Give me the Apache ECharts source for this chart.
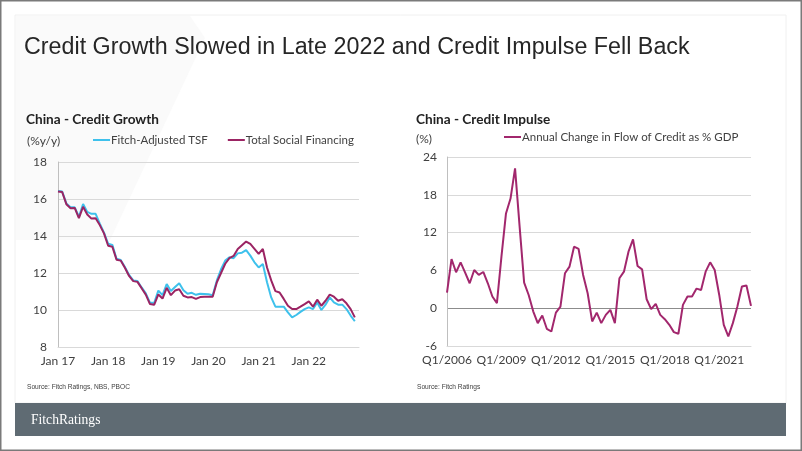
<!DOCTYPE html>
<html><head><meta charset="utf-8">
<script src="https://cdn.jsdelivr.net/npm/echarts@6/dist/echarts.min.js"></script>
<style>html,body{margin:0;padding:0;background:#fff}#c{width:802px;height:451px}</style>
</head><body><div id="c"></div>
<script>
// ---- Left chart: China - Credit Growth (%y/y), monthly Jan 2017 - Dec 2022
const xTickLabels = ['Jan 17', 'Jan 18', 'Jan 19', 'Jan 20', 'Jan 21', 'Jan 22'];
const fitchAdjustedTSF = [
  16.43, 16.40, 15.76, 15.56, 15.55, 15.04, 15.73, 15.30, 15.20, 15.20, 14.67, 14.18,
  13.58, 13.52, 12.77, 12.70, 12.32, 11.90, 11.60, 11.57, 11.22, 10.90, 10.40, 10.38,
  11.05, 10.80, 11.40, 11.03, 11.24, 11.45, 11.07, 10.88, 10.93, 10.82, 10.88, 10.87,
  10.85, 10.80, 11.60, 12.20, 12.67, 12.85, 12.80, 13.06, 13.10, 13.24, 12.94, 12.58,
  12.30, 12.49, 11.50, 10.68, 10.18, 10.18, 10.18, 9.87, 9.60, 9.73, 9.90, 10.05,
  10.14, 10.05, 10.41, 10.00, 10.29, 10.68, 10.41, 10.29, 10.29, 10.05, 9.70, 9.39
];
const totalSocialFinancing = [
  16.41, 16.38, 15.72, 15.50, 15.52, 14.97, 15.58, 15.16, 14.94, 14.96, 14.59, 14.14,
  13.47, 13.42, 12.72, 12.67, 12.28, 11.84, 11.56, 11.52, 11.18, 10.83, 10.32, 10.28,
  10.84, 10.62, 11.20, 10.80, 11.05, 11.12, 10.77, 10.68, 10.70, 10.60, 10.70, 10.72,
  10.72, 10.72, 11.50, 12.00, 12.50, 12.80, 12.92, 13.30, 13.50, 13.70, 13.57, 13.30,
  13.03, 13.30, 12.30, 11.60, 11.02, 10.95, 10.60, 10.23, 10.05, 10.05, 10.18, 10.32,
  10.47, 10.18, 10.56, 10.23, 10.50, 10.83, 10.72, 10.50, 10.58, 10.36, 10.05, 9.60
];
const growthTicks = [8, 10, 12, 14, 16, 18];

// ---- Right chart: China - Credit Impulse (%), quarterly Q1/2006 - Q4/2022
const impulseQuarters = [];
for (let y = 2006; y <= 2022; y++) for (let q = 1; q <= 4; q++) impulseQuarters.push('Q' + q + '/' + y);
const creditImpulse = [
  2.48, 7.80, 5.70, 7.28, 5.65, 3.96, 6.07, 5.28, 5.75, 3.96, 1.85, 0.80,
  8.18, 15.04, 17.40, 22.20, 13.00, 4.06, 2.10, -0.50, -2.37, -1.16, -3.27, -3.70,
  -0.70, 0.26, 5.54, 6.60, 9.76, 9.40, 5.28, 2.37, -2.10, -0.70, -2.37, -1.06,
  -0.26, -2.37, 4.75, 5.80, 8.97, 10.92, 6.70, 6.17, 1.42, -0.16, 0.69, -1.06,
  -1.74, -2.64, -3.80, -4.06, 0.53, 1.85, 1.85, 3.11, 2.90, 5.80, 7.28, 6.07,
  2.10, -2.64, -4.49, -2.37, 0.26, 3.43, 3.59, 0.37
];
const impulseTicks = [-6, 0, 6, 12, 18, 24];

const CYAN = '#3EC1EC', PLUM = '#9B2463', MAGENTA = '#A2276D';
const LBL = '#404040', GRID = '#d9d9d9';
const FONT = 'Lato';

const chart = echarts.init(document.getElementById('c'), null, { renderer: 'canvas' });
chart.setOption({
  backgroundColor: '#ffffff',
  animation: false,
  textStyle: { fontFamily: FONT },
  grid: [
    { left: 58, top: 162, width: 301, height: 185, outerBoundsMode: 'none', containLabel: false },
    { left: 447, top: 157, width: 304, height: 189, outerBoundsMode: 'none', containLabel: false }
  ],
  xAxis: [
    {
      gridIndex: 0, type: 'value', min: 0, max: 72, interval: 12,
      axisLine: { show: true, lineStyle: { color: GRID, width: 1 } },
      axisTick: { show: false }, splitLine: { show: false },
      axisLabel: {
        margin: 8, color: LBL, fontSize: 12, fontFamily: FONT,
        formatter: v => xTickLabels[v / 12] || ''
      }
    },
    {
      gridIndex: 1, type: 'category', data: impulseQuarters, boundaryGap: false,
      axisLine: { show: true, onZero: false, lineStyle: { color: GRID, width: 1 } },
      axisTick: { show: false }, splitLine: { show: false },
      axisLabel: { interval: 11, margin: 8, color: LBL, fontSize: 12, fontFamily: FONT }
    }
  ],
  yAxis: [
    {
      gridIndex: 0, type: 'value', min: growthTicks[0], max: growthTicks[growthTicks.length - 1], interval: 2,
      axisLine: { show: true, lineStyle: { color: '#bfbfbf', width: 1 } },
      axisTick: { show: false },
      splitLine: { show: true, lineStyle: { color: GRID, width: 1 } },
      axisLabel: { margin: 11, color: LBL, fontSize: 12, fontFamily: FONT }
    },
    {
      gridIndex: 1, type: 'value', min: impulseTicks[0], max: impulseTicks[impulseTicks.length - 1], interval: 6,
      axisLine: { show: true, lineStyle: { color: '#bfbfbf', width: 1 } },
      axisTick: { show: false },
      splitLine: { show: true, lineStyle: { color: [GRID, '#8c8c8c', GRID, GRID, GRID, GRID], width: 1 } },
      axisLabel: { margin: 10, color: LBL, fontSize: 12, fontFamily: FONT }
    }
  ],
  legend: [
    {
      data: ['Fitch-Adjusted TSF', 'Total Social Financing'],
      left: 93, top: 134, icon: 'rect', itemWidth: 17, itemHeight: 2, itemGap: 20,
      padding: 0,
      textStyle: { color: LBL, fontSize: 11.5, fontFamily: FONT, padding: [0, 0, 0, -4] }
    },
    {
      data: ['Annual Change in Flow of Credit as % GDP'],
      left: 504, top: 131, icon: 'rect', itemWidth: 17, itemHeight: 2,
      padding: 0,
      textStyle: { color: LBL, fontSize: 11.5, fontFamily: FONT, padding: [0, 0, 0, -4] }
    }
  ],
  series: [
    {
      name: 'Fitch-Adjusted TSF', type: 'line', xAxisIndex: 0, yAxisIndex: 0,
      data: fitchAdjustedTSF.map((v, i) => [i, v]),
      showSymbol: false, color: CYAN, lineStyle: { color: CYAN, width: 2 }
    },
    {
      name: 'Total Social Financing', type: 'line', xAxisIndex: 0, yAxisIndex: 0,
      data: totalSocialFinancing.map((v, i) => [i, v]),
      showSymbol: false, color: PLUM, lineStyle: { color: PLUM, width: 2 }
    },
    {
      name: 'Annual Change in Flow of Credit as % GDP', type: 'line', xAxisIndex: 1, yAxisIndex: 1,
      data: creditImpulse,
      showSymbol: false, color: MAGENTA, lineStyle: { color: MAGENTA, width: 2 }
    }
  ],
  graphic: [
    { type: 'rect', silent: true, z: -10, shape: { x: 15, y: 15, width: 771, height: 388 }, style: { fill: '#ffffff', stroke: '#f0f0f0', lineWidth: 1 } },
    { type: 'polygon', silent: true, z: -9, shape: { points: [[16, 16], [190, 16], [205, 38], [110, 240], [16, 240]] }, style: { fill: '#fafafa' } },
    { type: 'rect', silent: true, z: 100, shape: { x: 0.75, y: 0.75, width: 800.5, height: 449.5 }, style: { fill: 'none', stroke: '#7a7a7a', lineWidth: 1.5 } },
    { type: 'text', x: 24, y: 48, scaleX: 1.013, style: { text: 'Credit Growth Slowed in Late 2022 and Credit Impulse Fell Back', fill: '#262626', font: '23px "Liberation Sans", Arial, sans-serif', verticalAlign: 'middle' } },
    { type: 'text', x: 26, y: 120, style: { text: 'China - Credit Growth', fill: '#222', font: 'bold 13.6px Lato', verticalAlign: 'middle' } },
    { type: 'text', x: 27, y: 141, style: { text: '(%y/y)', fill: LBL, font: '12px Lato', verticalAlign: 'middle' } },
    { type: 'text', x: 416, y: 120, style: { text: 'China - Credit Impulse', fill: '#222', font: 'bold 13.6px Lato', verticalAlign: 'middle' } },
    { type: 'text', x: 416, y: 139, style: { text: '(%)', fill: LBL, font: '12px Lato', verticalAlign: 'middle' } },
    { type: 'text', x: 27, y: 387, scaleX: 0.945, style: { text: 'Source: Fitch Ratings, NBS, PBOC', fill: '#404040', font: '7px "Liberation Sans", Arial, sans-serif', verticalAlign: 'middle' } },
    { type: 'text', x: 417, y: 387, scaleX: 0.945, style: { text: 'Source: Fitch Ratings', fill: '#404040', font: '7px "Liberation Sans", Arial, sans-serif', verticalAlign: 'middle' } },
    { type: 'rect', silent: true, shape: { x: 15, y: 403, width: 771, height: 33 }, style: { fill: '#5f6b73' } },
    { type: 'text', x: 31, y: 420, scaleX: 0.97, style: { text: 'FitchRatings', fill: '#ffffff', font: '14px "Liberation Serif", serif', verticalAlign: 'middle' } }
  ]
});
</script>
</body></html>
